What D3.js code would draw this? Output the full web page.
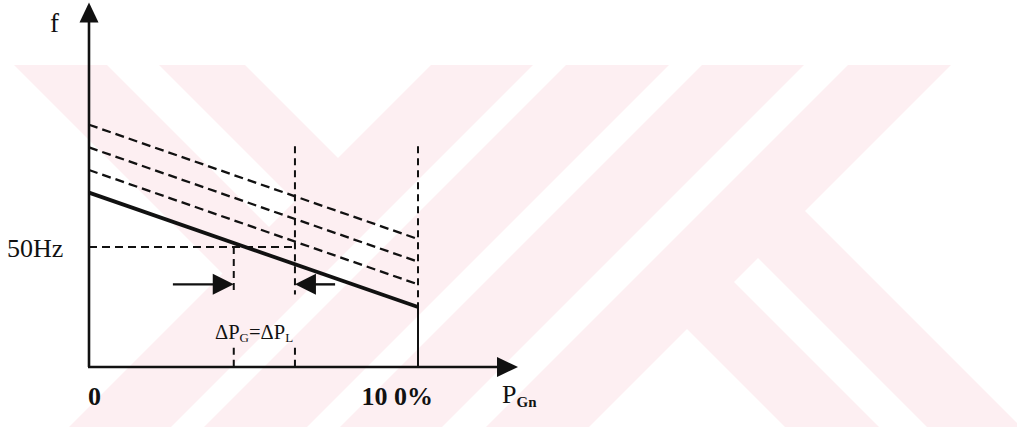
<!DOCTYPE html>
<html>
<head>
<meta charset="utf-8">
<script src="https://cdn.jsdelivr.net/npm/d3@7"></script>
<style>
  body { margin: 0; background: #fff; }
  svg { display: block; }
  text { font-family: "Liberation Serif", "DejaVu Serif", serif; fill: #111; }
</style>
</head>
<body>
<div id="droopDiagramm"></div>
<script>
{
//data: droop lines (power in % of rated, frequency in Hz)
const powerPct = [0, 100];
const fDroop = [52.4, 47.35];        // solid line
const fRaised1 = [53.4, 48.35];      // dashed, set point raised
const fRaised2 = [54.4, 49.35];
const fRaised3 = [55.4, 50.35];
const fNominal = 50;
const pGuides = [44, 62.6, 100];     // vertical guide lines
const fGuideTop = 54.45;
const fArrow = 48.35;
const fLabelGap = [47.9, 45.55];     // guides are broken round the ΔP label
const arrowLeft = [25.5, 44];        // tail, tip
const arrowRight = [74.8, 62.6];
const axisEnd = { p: 130.4, f: 60.8 };

//watermark bands in the background (u = x + y, v = x - y)
const wmSlash = [[496, 598], [631, 734], [767, 869], [913, 1016]];
const wmBackLeft = [[-51, 42], [94, 180]];
const wmBackRight = [[358, 452], [500, 594]];

const diagramm = document.getElementById('droopDiagramm');
const svgSize = { width: 1017, height: 432 };

const visualisierung = d3.select(diagramm).append('svg')
  .attr('width', svgSize.width)
  .attr('height', svgSize.height);

//scales
const x = d3.scaleLinear().domain([0, 100]).range([89, 418]);
const y = d3.scaleLinear().domain([44.7, 50]).range([367, 247]);

//watermark
const wmTop = 65, wmBottom = 427;
visualisierung.append('clipPath').attr('id', 'wmClip')
  .append('rect').attr('x', 0).attr('y', wmTop)
  .attr('width', svgSize.width).attr('height', wmBottom - wmTop);

const watermark = visualisierung.append('g')
  .attr('clip-path', 'url(#wmClip)')
  .attr('fill', '#fdeff2');

watermark.selectAll('path.slash')
  .data(wmSlash)
  .join('path')
  .attr('class', 'slash')
  .attr('d', d => `M${d[0] - wmTop},${wmTop}L${d[1] - wmTop},${wmTop}L${d[1] - wmBottom},${wmBottom}L${d[0] - wmBottom},${wmBottom}Z`);

//point on line u/v
const uv = (u, v) => [(u + v) / 2, (u - v) / 2];

watermark.selectAll('path.backLeft')
  .data(wmBackLeft)
  .join('path')
  .attr('class', 'backLeft')
  .attr('d', d => {
    const u = wmSlash[0][0] + 6;
    return 'M' + [[d[0] + wmTop, wmTop], [d[1] + wmTop, wmTop], uv(u, d[1]), uv(u, d[0])].join('L') + 'Z';
  });

watermark.selectAll('path.backRight')
  .data(wmBackRight)
  .join('path')
  .attr('class', 'backRight')
  .attr('d', d => {
    const u = wmSlash[3][1] - 6;
    return 'M' + [uv(u, d[1]), [d[1] + wmBottom, wmBottom], [d[0] + wmBottom, wmBottom], uv(u, d[0])].join('L') + 'Z';
  });

const graph = visualisierung.append('g').attr('id', 'graph');

//axes with arrow heads
graph.append('line')
  .attr('x1', x(0)).attr('y1', y(44.7))
  .attr('x2', x(0)).attr('y2', y(axisEnd.f) + 16)
  .attr('stroke', '#111').attr('stroke-width', 2.6);
graph.append('line')
  .attr('x1', x(0) - 1).attr('y1', y(44.7))
  .attr('x2', x(axisEnd.p) - 16).attr('y2', y(44.7))
  .attr('stroke', '#111').attr('stroke-width', 2.4);

graph.append('path')
  .attr('d', `M${x(0)},${y(axisEnd.f)}L${x(0) + 9.5},${y(axisEnd.f) + 20}L${x(0) - 9.5},${y(axisEnd.f) + 20}Z`)
  .attr('fill', '#111');
graph.append('path')
  .attr('d', `M${x(axisEnd.p)},${y(44.7)}L${x(axisEnd.p) - 21},${y(44.7) - 10}L${x(axisEnd.p) - 21},${y(44.7) + 10}Z`)
  .attr('fill', '#111');

//droop lines
const line = d3.line().x(d => x(d[0])).y(d => y(d[1]));
const dashedSeries = [fRaised1, fRaised2, fRaised3];

graph.selectAll('path.raised')
  .data(dashedSeries)
  .join('path')
  .attr('class', 'raised')
  .attr('d', f => line(d3.zip(powerPct, f)))
  .attr('fill', 'none')
  .attr('stroke', '#111')
  .attr('stroke-width', 2.3)
  .attr('stroke-dasharray', '9,5');

graph.append('path')
  .attr('d', line(d3.zip(powerPct, fDroop)))
  .attr('fill', 'none')
  .attr('stroke', '#111')
  .attr('stroke-width', 3.8);

//50Hz guide
graph.append('line')
  .attr('x1', x(0)).attr('y1', y(fNominal))
  .attr('x2', x(pGuides[1])).attr('y2', y(fNominal))
  .attr('stroke', '#111').attr('stroke-width', 1.8)
  .attr('stroke-dasharray', '8,5');

//vertical guides
function guide(p, fFrom, fTo, dashed) {
  graph.append('line')
    .attr('x1', x(p)).attr('y1', y(fFrom))
    .attr('x2', x(p)).attr('y2', y(fTo))
    .attr('stroke', '#111').attr('stroke-width', 2)
    .attr('stroke-dasharray', dashed ? '7,5' : null);
}
guide(pGuides[0], fNominal, fLabelGap[0], true);
guide(pGuides[0], fLabelGap[1], 44.7, true);
guide(pGuides[1], fGuideTop, fLabelGap[0], true);
guide(pGuides[1], fLabelGap[1], 44.7, true);
guide(pGuides[2], fGuideTop, fDroop[1], true);
guide(pGuides[2], fDroop[1], 44.7, false);

//ΔP arrows
[arrowLeft, arrowRight].forEach(a => {
  const tail = x(a[0]), tip = x(a[1]), yy = y(fArrow);
  const dir = tip > tail ? 1 : -1;
  graph.append('line')
    .attr('x1', tail).attr('y1', yy)
    .attr('x2', tip - dir * 18).attr('y2', yy)
    .attr('stroke', '#111').attr('stroke-width', 2.4);
  graph.append('path')
    .attr('d', `M${tip},${yy}L${tip - dir * 21},${yy - 10.5}L${tip - dir * 21},${yy + 10.5}Z`)
    .attr('fill', '#111');
});

//labels
const labels = visualisierung.append('g').attr('id', 'labels');

labels.append('text')
  .attr('x', 50).attr('y', 32)
  .style('font-size', '27px')
  .text('f');

labels.append('text')
  .attr('x', 7).attr('y', y(fNominal) + 10)
  .style('font-size', '26px')
  .text('50Hz');

labels.append('text')
  .attr('x', x(0) - 1).attr('y', 405)
  .style('font-size', '26px').style('font-weight', 'bold')
  .text('0');

labels.append('text')
  .attr('x', x(pGuides[2]) + 15).attr('y', 405)
  .attr('text-anchor', 'end')
  .style('font-size', '26px').style('font-weight', 'bold')
  .text('10 0%');

const pLabel = labels.append('text')
  .attr('x', 502).attr('y', 403)
  .style('font-size', '26px');
pLabel.append('tspan').text('P');
pLabel.append('tspan').attr('dy', 4).style('font-size', '15px').style('font-weight', 'bold').text('Gn');

const dLabel = labels.append('text')
  .attr('x', 215).attr('y', 339)
  .style('font-size', '20.5px');
dLabel.append('tspan').text('ΔP');
dLabel.append('tspan').attr('dy', 3).style('font-size', '13px').text('G');
dLabel.append('tspan').attr('dy', -3).text('=ΔP');
dLabel.append('tspan').attr('dy', 3).style('font-size', '13px').text('L');
}
</script>
</body>
</html>
